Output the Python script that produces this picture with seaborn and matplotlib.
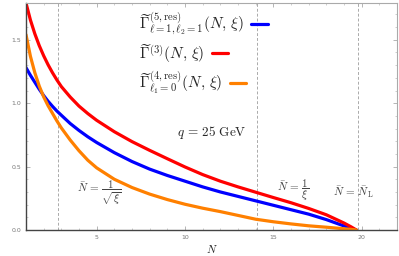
import matplotlib
matplotlib.use("Agg")
import matplotlib.pyplot as plt
import seaborn as sns
import pandas as pd
from matplotlib.ticker import MultipleLocator, FormatStrFormatter

# valeurs
N = [1, 1.25, 1.5, 1.75, 2, 2.25, 2.5, 2.75, 3, 3.5, 4, 4.5, 5, 6, 7, 8, 9, 10,
     11, 12, 13, 14, 15, 16, 17, 18, 19, 19.4, 19.7]
gamma5 = [1.28, 1.22, 1.165, 1.11, 1.06, 1.015, 0.975, 0.938, 0.905, 0.84, 0.785, 0.735, 0.69,
          0.61, 0.54, 0.48, 0.43, 0.385, 0.34, 0.30, 0.265, 0.23, 0.195, 0.16, 0.125, 0.082,
          0.032, 0.013, 0.0]
gamma3 = [1.79, 1.656, 1.547, 1.454, 1.374, 1.303, 1.24, 1.183, 1.131, 1.049, 0.977, 0.918, 0.865,
          0.775, 0.697, 0.628, 0.562, 0.497, 0.437, 0.385, 0.34, 0.298, 0.256, 0.215, 0.17,
          0.12, 0.055, 0.025, 0.0]
gamma4 = [1.54, 1.37, 1.24, 1.135, 1.05, 0.98, 0.92, 0.86, 0.805, 0.71, 0.625, 0.55, 0.49,
          0.40, 0.335, 0.283, 0.24, 0.203, 0.172, 0.145, 0.115, 0.085, 0.065, 0.048, 0.033,
          0.022, 0.01, 0.005, 0.0]

labels = [r"$\widetilde{\Gamma}^{(5,\mathrm{res})}_{\ell=1,\ell_2=1}(N,\,\xi)$",
          r"$\widetilde{\Gamma}^{(3)}(N,\,\xi)$",
          r"$\widetilde{\Gamma}^{(4,\mathrm{res})}_{\ell_1=0}(N,\,\xi)$"]
colors = ["#0000ff", "#ff0000", "#ff8000"]
vlines = [2.8, 14.05, 19.8]

df = pd.concat([
    pd.DataFrame({"N": N, "val": g, "courbe": lab})
    for g, lab in zip([gamma5, gamma3, gamma4], labels)
])

sns.set_style("ticks")
plt.rcParams["mathtext.fontset"] = "cm"

fig, ax = plt.subplots(figsize=(3.99, 2.56), dpi=100)
fig.subplots_adjust(left=26/399, right=397/399, top=1-3/256, bottom=1-230/256)

for x in vlines:
    ax.axvline(x, color="#aaaaaa", ls=(0, (3, 2)), lw=0.7, zorder=0)

sns.lineplot(data=df, x="N", y="val", hue="courbe", palette=colors,
             hue_order=labels, lw=2.3, sort=False, ax=ax)

ax.set_xlim(1, 22)
ax.set_ylim(0, 1.79)
ax.xaxis.set_major_locator(MultipleLocator(5))
ax.xaxis.set_minor_locator(MultipleLocator(1))
ax.yaxis.set_major_locator(MultipleLocator(0.5))
ax.yaxis.set_minor_locator(MultipleLocator(0.1))
ax.yaxis.set_major_formatter(FormatStrFormatter("%.1f"))
ax.tick_params(which="both", direction="in", top=True, right=True,
               labelsize=4.5, labelcolor="#777777", color="#aaaaaa")
ax.tick_params(which="major", length=3, width=0.6)
ax.tick_params(which="minor", length=1.5, width=0.4)
for s in ["left", "bottom"]:
    ax.spines[s].set_color("#444444")
    ax.spines[s].set_linewidth(1.0)
for s in ["top", "right"]:
    ax.spines[s].set_color("#aaaaaa")
    ax.spines[s].set_linewidth(0.8)

ax.set_xlabel(r"$N$", fontsize=8, labelpad=2)
ax.set_ylabel("")

leg = ax.legend(loc="upper left", bbox_to_anchor=(0.285, 1.0), frameon=False,
                markerfirst=False, fontsize=11, handlelength=1.1, handletextpad=0.45,
                labelspacing=0.3, borderaxespad=0.1)
# texte aligné à gauche, le trait juste après
for col in leg._legend_handle_box.get_children():
    col.align = "left"

ax.text(9.55, 0.77, r"$q\,=\,25\ \mathrm{GeV}$", fontsize=9.5, va="center")
ax.text(3.9, 0.29, r"$\bar{N}\,=\,\dfrac{1}{\sqrt{\xi}}$", fontsize=8, va="center", color="#444444")
ax.text(15.2, 0.31, r"$\bar{N}\,=\,\dfrac{1}{\xi}$", fontsize=8, va="center", color="#444444")
ax.text(18.35, 0.30, r"$\bar{N}\,=\,\bar{N}_{\mathrm{L}}$", fontsize=8, va="center", color="#444444")

plt.savefig("out.png", dpi=100)
